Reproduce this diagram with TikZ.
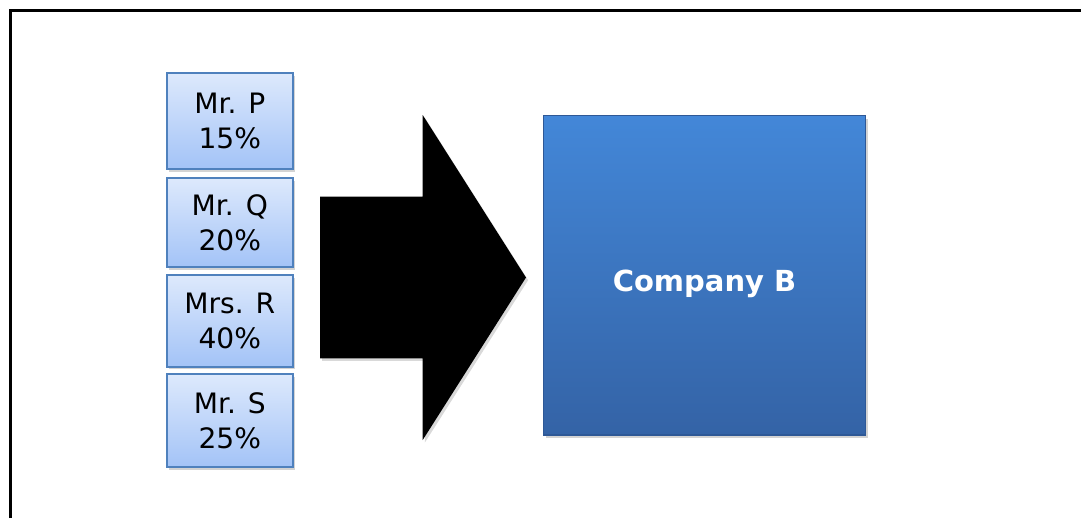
\documentclass[tikz,border=0pt]{standalone}
\usepackage{fontspec}
\setmainfont{DejaVu Sans}
\usetikzlibrary{shadows}
\definecolor{shareedge}{RGB}{79, 129, 189}
\definecolor{sharetop}{RGB}{221, 233, 252}
\definecolor{sharebottom}{RGB}{163, 195, 247}
\definecolor{comptop}{RGB}{67, 135, 216}
\definecolor{compbottom}{RGB}{52, 99, 166}
\definecolor{compedge}{RGB}{46, 88, 150}

\tikzset{
  sharebox/.style={rectangle, draw=shareedge, line width=1.1pt,
    top color=sharetop, bottom color=sharebottom,
    minimum width=2.52cm, align=center, inner sep=0pt,
    font=\fontsize{16}{20}\selectfont,
    drop shadow={opacity=0.35, shadow xshift=1.2pt, shadow yshift=-1.5pt}},
  companybox/.style={rectangle, draw=compedge, line width=0.6pt,
    top color=comptop, bottom color=compbottom,
    minimum width=6.45cm, minimum height=6.4cm, text=white,
    font=\fontsize{16.5}{20}\selectfont\bfseries,
    drop shadow={opacity=0.35, shadow xshift=1.5pt, shadow yshift=-2pt}}
}

\begin{document}
\begin{tikzpicture}[x=0.02cm, y=-0.02cm]
  \useasboundingbox (0,0) rectangle (1081,518);
  % frame
  \draw[line width=0.06cm] (10.2,518) -- (10.2,10.5) -- (1081,10.5);

  % owners
  \foreach \nm/\who/\pct/\yc/\bh in {p/Mr. P/15/120.9/1.92, q/Mr. Q/20/222.8/1.78,
      r/Mrs. R/40/320.9/1.83, s/Mr. S/25/420.8/1.86} {
    \node[sharebox, minimum height=\bh cm] (\nm) at (229.8,\yc) {\who\\\pct\%};
  }

  % block arrow
  \fill[black, drop shadow={opacity=0.3, shadow xshift=1.2pt, shadow yshift=-1.5pt}]
    (320,196.7) -- (422.7,196.7) -- (422.7,115) -- (526,277.5)
    -- (422.7,440) -- (422.7,358.3) -- (320,358.3) -- cycle;

  % company
  \node[companybox] (compB) at (704.5,275) {\raisebox{-9.5pt}[0pt][0pt]{Company B}};
\end{tikzpicture}
\end{document}
